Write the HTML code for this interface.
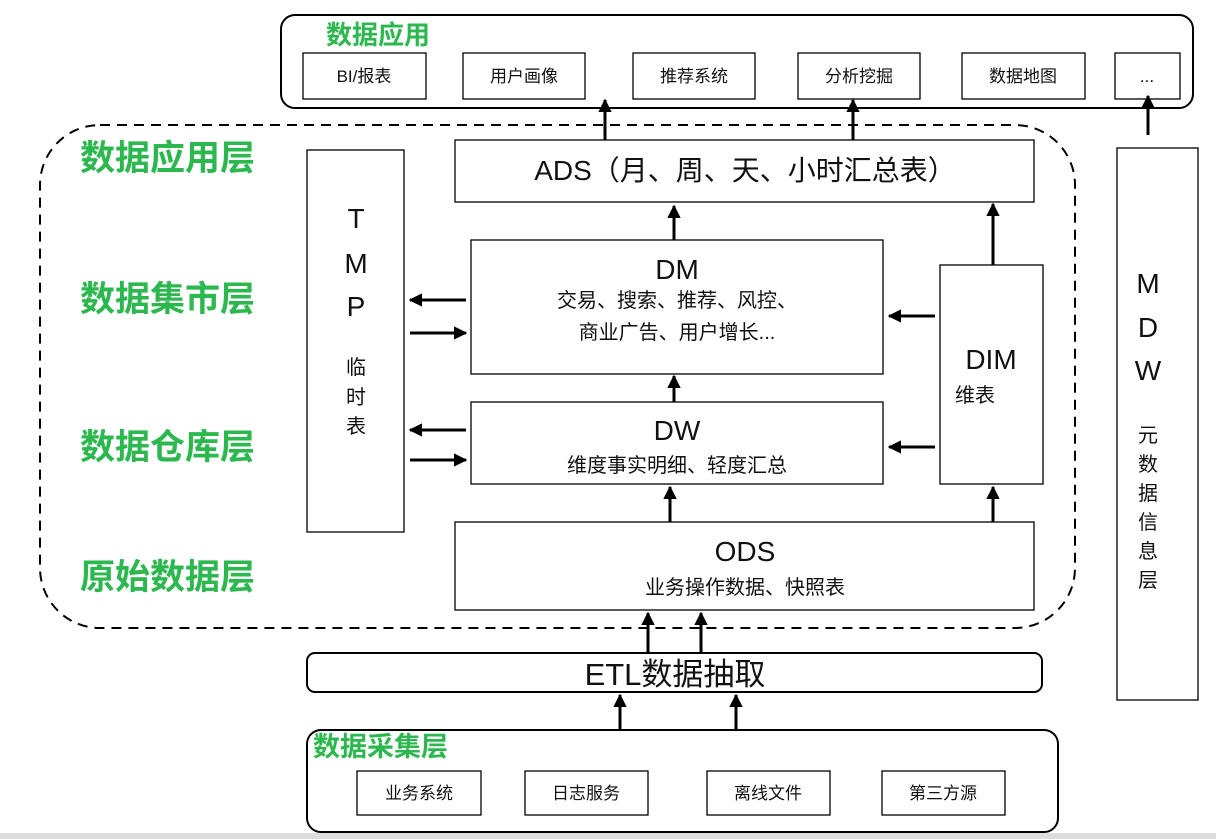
<!DOCTYPE html>
<html><head><meta charset="utf-8"><style>
html,body{margin:0;padding:0;background:#fff;}
svg{display:block;}
text{font-family:"Liberation Sans","Noto Sans CJK SC",sans-serif;fill:#111;}
.g{fill:#2cb84e;font-weight:bold;}
</style></head><body>
<svg width="1216" height="840" viewBox="0 0 1216 840" xmlns="http://www.w3.org/2000/svg">
<defs><marker id="a" viewBox="0 0 10 10" refX="9" refY="5" markerWidth="4.5" markerHeight="4.5" orient="auto"><path d="M0,0 L10,5 L0,10 z" fill="#000"/></marker></defs>
<g fill="none" stroke="#000" stroke-width="2">
<rect x="281" y="15" width="912" height="93" rx="14"/>
<rect x="40" y="125" width="1035" height="503" rx="60" stroke-dasharray="10,7"/>
<rect x="307" y="653" width="735" height="39" rx="8"/>
<rect x="307" y="730" width="751" height="102" rx="14"/>
</g>
<g fill="#fff" stroke="#000" stroke-width="1.3">
<rect x="303" y="53" width="123" height="46"/>
<rect x="463" y="53" width="122" height="46"/>
<rect x="633" y="53" width="122" height="46"/>
<rect x="798" y="53" width="122" height="46"/>
<rect x="962" y="53" width="123" height="46"/>
<rect x="1115" y="53" width="65" height="46"/>
<rect x="307" y="150" width="97" height="382"/>
<rect x="455" y="140" width="579" height="62"/>
<rect x="471" y="240" width="412" height="134"/>
<rect x="471" y="402" width="412" height="82"/>
<rect x="940" y="265" width="103" height="219"/>
<rect x="455" y="522" width="579" height="88"/>
<rect x="1117" y="148" width="81" height="552"/>
<rect x="357" y="771" width="124" height="44"/>
<rect x="525" y="771" width="123" height="44"/>
<rect x="707" y="771" width="123" height="44"/>
<rect x="882" y="771" width="123" height="44"/>
</g>
<g stroke="#000" stroke-width="3" marker-end="url(#a)">
<line x1="605" y1="140" x2="605" y2="100"/>
<line x1="853" y1="140" x2="853" y2="100"/>
<line x1="1148" y1="135" x2="1148" y2="96"/>
<line x1="674" y1="240" x2="674" y2="206"/>
<line x1="993" y1="265" x2="993" y2="204"/>
<line x1="674" y1="402" x2="674" y2="376"/>
<line x1="670" y1="522" x2="670" y2="487"/>
<line x1="993" y1="522" x2="993" y2="487"/>
<line x1="935" y1="316" x2="889" y2="316"/>
<line x1="935" y1="447" x2="889" y2="447"/>
<line x1="466" y1="300" x2="410" y2="300"/>
<line x1="410" y1="333" x2="466" y2="333"/>
<line x1="466" y1="430" x2="410" y2="430"/>
<line x1="410" y1="460" x2="466" y2="460"/>
<line x1="648" y1="653" x2="648" y2="613"/>
<line x1="701" y1="653" x2="701" y2="613"/>
<line x1="620" y1="730" x2="620" y2="695"/>
<line x1="736" y1="730" x2="736" y2="695"/>
</g>
<line x1="0" y1="836" x2="1216" y2="836" stroke="#ddd" stroke-width="6"/>
<text x="326" y="44" class="g" font-size="26">数据应用</text>
<g font-size="17" text-anchor="middle">
<text x="364" y="82">BI/报表</text><text x="524" y="82">用户画像</text><text x="694" y="82">推荐系统</text>
<text x="859" y="82">分析挖掘</text><text x="1023" y="82">数据地图</text><text x="1147" y="82">...</text>
<text x="419" y="799">业务系统</text><text x="586" y="799">日志服务</text><text x="768" y="799">离线文件</text><text x="943" y="799">第三方源</text>
</g>
<g font-size="35"><text x="80" y="170" class="g">数据应用层</text><text x="80" y="311" class="g">数据集市层</text><text x="80" y="459" class="g">数据仓库层</text><text x="80" y="589" class="g">原始数据层</text></g>
<text x="313" y="756" class="g" font-size="27">数据采集层</text>
<g text-anchor="middle" font-size="28">
<text x="356" y="228">T</text><text x="356" y="273">M</text><text x="356" y="316">P</text>
<text x="1148" y="293">M</text><text x="1148" y="337">D</text><text x="1148" y="380">W</text>
<text x="745" y="180">ADS（月、周、天、小时汇总表）</text>
<text x="677" y="279">DM</text><text x="677" y="440">DW</text><text x="745" y="561">ODS</text>
<text x="991" y="369">DIM</text>
<text x="675" y="685" font-size="31">ETL数据抽取</text>
</g>
<g text-anchor="middle" font-size="20">
<text x="356" y="374">临</text><text x="356" y="404">时</text><text x="356" y="433">表</text>
<text x="1148" y="442">元</text><text x="1148" y="471">数</text><text x="1148" y="500">据</text><text x="1148" y="529">信</text><text x="1148" y="558">息</text><text x="1148" y="587">层</text>
<text x="677" y="307">交易、搜索、推荐、风控、</text>
<text x="677" y="339">商业广告、用户增长...</text>
<text x="677" y="472">维度事实明细、轻度汇总</text>
<text x="745" y="594">业务操作数据、快照表</text>
</g>
<text x="955" y="402" font-size="20">维表</text>
</svg>
</body></html>
